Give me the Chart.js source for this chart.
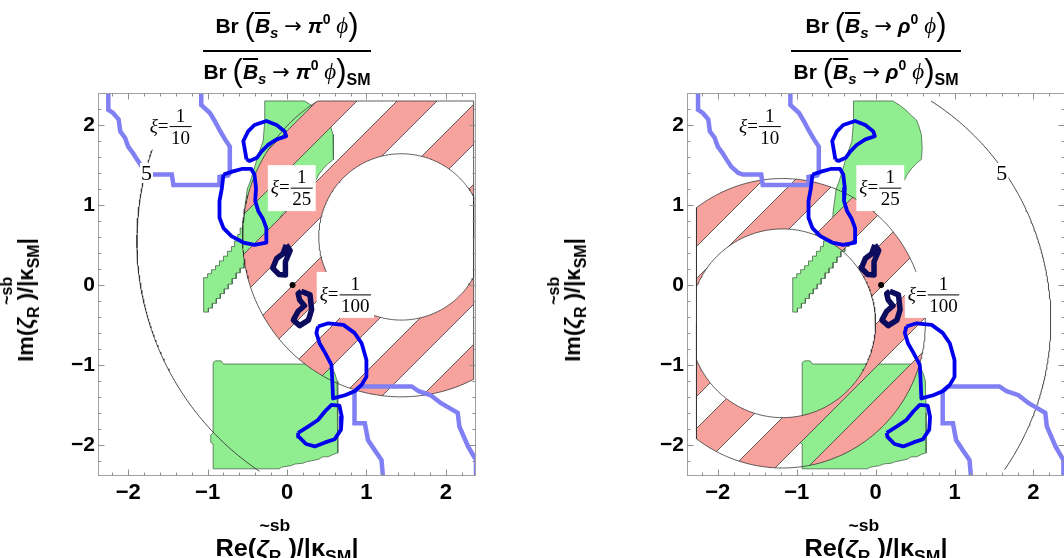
<!DOCTYPE html>
<html><head><meta charset="utf-8">
<script src="https://cdn.jsdelivr.net/npm/chart.js@4.4.1/dist/chart.umd.min.js"></script>
<style>
html,body{margin:0;padding:0;background:#fff;}
body{width:1064px;height:558px;overflow:hidden;position:relative;font-family:'Liberation Sans',Arial,sans-serif;color:#000;}
canvas{position:absolute;top:0;}
.ln{position:absolute;white-space:nowrap;font-weight:bold;font-size:21px;line-height:24px;transform:translateX(-50%);}
.par{font-weight:normal;font-size:31px;line-height:0;position:relative;top:2px;}
.bb{font-style:italic;text-decoration:overline;text-decoration-thickness:2px;}
.sub{font-size:15px;line-height:0;position:relative;top:5px;}
.subsm{font-size:16px;line-height:0;position:relative;top:6px;}
.sup{font-size:14px;line-height:0;position:relative;top:-9px;}
.arr{font-family:'DejaVu Sans',sans-serif;font-weight:normal;font-size:21px;line-height:0;}
.gk{font-style:italic;}
.ph{font-family:'Liberation Serif','DejaVu Serif',serif;font-style:italic;font-weight:normal;font-size:23px;}
.bar{position:absolute;height:2px;background:#000;}
.ax{position:absolute;white-space:nowrap;font-weight:bold;font-size:23px;line-height:26px;}
.z{position:relative;font-style:italic;}
.sb{position:absolute;font-size:16px;line-height:18px;font-style:normal;}
.axsub{font-size:16px;line-height:0;position:relative;top:6px;}
</style></head><body>
<canvas id="cL" width="532" height="558" style="left:0"></canvas>
<canvas id="cR" width="545" height="558" style="left:532px"></canvas>

<div class="ln" style="left:287px;top:14px">Br <span class="par">(</span><span class="bb">B</span><span class="sub gk">s</span> <span class="arr">→</span> <span class="gk">π</span><span class="sup">0</span> <span class="ph">ϕ</span><span class="par">)</span></div>
<div class="bar" style="left:203px;top:50px;width:168px"></div>
<div class="ln" style="left:287px;top:60px">Br <span class="par">(</span><span class="bb">B</span><span class="sub gk">s</span> <span class="arr">→</span> <span class="gk">π</span><span class="sup">0</span> <span class="ph">ϕ</span><span class="par">)</span><span class="subsm">SM</span></div>

<div class="ln" style="left:876px;top:14px">Br <span class="par">(</span><span class="bb">B</span><span class="sub gk">s</span> <span class="arr">→</span> <span class="gk">ρ</span><span class="sup">0</span> <span class="ph">ϕ</span><span class="par">)</span></div>
<div class="bar" style="left:791px;top:50px;width:170px"></div>
<div class="ln" style="left:876px;top:60px">Br <span class="par">(</span><span class="bb">B</span><span class="sub gk">s</span> <span class="arr">→</span> <span class="gk">ρ</span><span class="sup">0</span> <span class="ph">ϕ</span><span class="par">)</span><span class="subsm">SM</span></div>

<div class="ax" style="left:287px;top:548px;transform:translate(-50%,-50%) scaleX(1.1)">Re(<span class="z">ζ<span class="sb" style="left:3px;top:-18px">~sb</span></span><span class="axsub">R</span> )/|κ<span class="axsub">SM</span>|</div>
<div class="ax" style="left:876px;top:548px;transform:translate(-50%,-50%) scaleX(1.1)">Re(<span class="z">ζ<span class="sb" style="left:3px;top:-18px">~sb</span></span><span class="axsub">R</span> )/|κ<span class="axsub">SM</span>|</div>
<div class="ax" style="left:26px;top:300px;font-size:22px;transform:translate(-50%,-50%) rotate(-90deg)">Im(<span class="z">ζ<span class="sb" style="left:24px;top:-15px">~sb</span></span><span class="axsub">R</span> )/|κ<span class="axsub">SM</span>|</div>
<div class="ax" style="left:573px;top:300px;font-size:22px;transform:translate(-50%,-50%) rotate(-90deg)">Im(<span class="z">ζ<span class="sb" style="left:24px;top:-15px">~sb</span></span><span class="axsub">R</span> )/|κ<span class="axsub">SM</span>|</div>

<script>
// ---------------- data ----------------
const tickValues = [-2, -1, 0, 1, 2];
const minorStep = 0.2;
const xRangePi = [-2.38, 2.38];
const xRangeRho = [-2.39, 2.40];
const yRange = [-2.39, 2.40];

// light-blue constraint lines
const xiLine10 = [[-2.25,2.42],[-2.25,2.19],[-2.19,2.15],[-2.12,2.07],[-2.10,1.92],[-2.04,1.84],[-2.00,1.73],[-1.94,1.65],[-1.89,1.57],[-1.83,1.48],[-1.74,1.40],[-1.68,1.38],[-1.45,1.38],[-1.43,1.25],[-0.85,1.25],[-0.85,1.35],[-0.74,1.37],[-0.72,1.40],[-0.72,1.73],[-0.78,1.82],[-0.85,1.94],[-0.91,2.05],[-0.97,2.15],[-1.08,2.25],[-1.08,2.42]];
const xiLine100 = [[1.21,-2.42],[1.19,-2.19],[1.10,-2.06],[1.02,-1.94],[0.98,-1.73],[0.85,-1.73],[0.85,-1.33],[0.92,-1.27],[1.57,-1.27],[1.66,-1.33],[1.81,-1.38],[1.94,-1.48],[2.15,-1.60],[2.17,-1.77],[2.28,-2.02],[2.38,-2.19],[2.38,-2.42]];

// blue contours
const contourA = [[-0.51,1.57],[-0.55,1.80],[-0.49,1.92],[-0.41,2.00],[-0.26,2.05],[-0.13,2.00],[-0.03,1.92],[-0.01,1.86],[-0.13,1.82],[-0.24,1.75],[-0.32,1.67],[-0.38,1.59],[-0.47,1.55],[-0.51,1.57]];
const contourB = [[-0.80,1.38],[-0.68,1.42],[-0.57,1.45],[-0.45,1.45],[-0.41,1.38],[-0.39,1.21],[-0.40,1.05],[-0.36,0.92],[-0.30,0.82],[-0.26,0.71],[-0.26,0.53],[-0.41,0.50],[-0.55,0.53],[-0.70,0.61],[-0.80,0.71],[-0.85,0.84],[-0.85,1.05],[-0.82,1.21],[-0.80,1.38]];
const contourC = [[0.39,-0.52],[0.52,-0.48],[0.71,-0.50],[0.85,-0.60],[0.94,-0.73],[1.00,-0.94],[1.00,-1.15],[0.94,-1.25],[0.85,-1.33],[0.73,-1.38],[0.58,-1.42],[0.57,-1.19],[0.56,-1.00],[0.48,-0.85],[0.41,-0.73],[0.37,-0.60],[0.39,-0.52]];
const contourD = [[0.14,-1.85],[0.27,-1.77],[0.39,-1.69],[0.48,-1.58],[0.56,-1.50],[0.66,-1.51],[0.69,-1.65],[0.68,-1.81],[0.60,-1.93],[0.48,-1.97],[0.35,-2.02],[0.24,-1.99],[0.15,-1.90],[0.14,-1.85]];

// dark navy blobs and SM point
const blobUpper = [[-0.01,0.50],[0.04,0.43],[-0.02,0.29],[-0.02,0.125],[-0.10,0.13],[-0.18,0.21],[-0.13,0.33],[-0.05,0.39],[-0.01,0.50]];
const blobLower = [[0.18,-0.08],[0.29,-0.125],[0.31,-0.31],[0.27,-0.44],[0.16,-0.51],[0.08,-0.44],[0.14,-0.33],[0.22,-0.26],[0.16,-0.19],[0.14,-0.11],[0.18,-0.08]];
const smPoint = [[0.07, 0.0]];

// green allowed regions
const greenUpper = [[-0.28,2.30],[0.22,2.30],[0.30,2.25],[0.38,2.19],[0.45,2.12],[0.52,2.06],[0.55,1.98],[0.58,1.88],[0.59,1.70],[0.58,1.57],[0.52,1.52],[0.46,1.46],[0.40,1.38],[0.37,1.32],[0.20,1.12],[0.06,0.96],[-0.05,0.90],[-0.10,0.82],[-0.13,0.74],
 [-0.18,0.74],[-0.18,0.68],[-0.24,0.68],[-0.24,0.62],[-0.29,0.62],[-0.29,0.55],[-0.34,0.55],[-0.34,0.48],[-0.39,0.48],[-0.39,0.42],[-0.44,0.42],[-0.44,0.35],[-0.49,0.35],[-0.49,0.28],[-0.54,0.28],[-0.54,0.21],[-0.59,0.21],[-0.59,0.15],[-0.64,0.15],[-0.64,0.08],[-0.69,0.08],[-0.69,0.01],[-0.74,0.01],[-0.74,-0.05],[-0.79,-0.05],[-0.79,-0.11],[-0.84,-0.11],[-0.84,-0.17],[-0.89,-0.17],[-0.89,-0.23],[-0.94,-0.23],[-0.94,-0.29],[-0.99,-0.29],[-0.99,-0.34],[-1.05,-0.34],
 [-1.05,0.09],[-1.00,0.09],[-1.00,0.14],[-0.95,0.14],[-0.95,0.19],[-0.90,0.19],[-0.90,0.24],[-0.85,0.24],[-0.85,0.30],[-0.80,0.30],[-0.80,0.36],[-0.75,0.36],[-0.75,0.42],[-0.70,0.42],[-0.70,0.48],[-0.66,0.48],[-0.66,0.55],[-0.62,0.55],[-0.62,0.63],[-0.59,0.63],[-0.59,0.71],[-0.56,0.71],[-0.56,0.80],[-0.54,0.80],[-0.54,0.90],
 [-0.52,1.05],[-0.50,1.20],[-0.46,1.30],[-0.40,1.50],[-0.36,1.63],[-0.30,1.80],[-0.28,2.05],[-0.28,2.30]];
const greenLower = [[-0.93,-1.04],[-0.93,-0.97],[-0.90,-0.95],[-0.83,-0.95],[-0.80,-0.99],[0.48,-0.99],[0.56,-1.02],[0.60,-1.10],[0.63,-1.20],[0.64,-1.60],[0.64,-2.10],[0.58,-2.12],[0.52,-2.15],[0.45,-2.15],[0.40,-2.18],[0.31,-2.20],[0.25,-2.21],[0.20,-2.23],[0.10,-2.24],[0.05,-2.26],[-0.07,-2.28],[-0.10,-2.30],[-0.93,-2.30],[-0.93,-1.99],[-0.96,-1.97],[-0.96,-1.88],[-0.93,-1.85],[-0.93,-1.04]];

// hatched ratio regions: centre x, centre y, inner radius, outer radius
const ringPi = [1.44, 0.60, 1.04, 2.00];
const ringRho = [-1.18, -0.48, 1.18, 1.81];
const clipPi = [-2.33, 2.35, -2.30, 2.30];
const clipRho = [-2.27, 2.33, -2.30, 2.30];

// "5" contour: centre x, centre y, radius ; visible y-extent
const circ5Pi = [1.57, 0.55, 3.46];
const arc5PiY = [-2.33, 1.76];
const circ5Rho = [-1.03, -0.45, 3.25];
const arc5RhoY = [-2.31, 2.30];
const label5Pi = [-1.77, 1.40];
const label5Rho = [1.60, 1.40];

// xi labels
const xiDen = ['10', '25', '100'];
const xiPosX = [-1.34, 0.185, 0.86];
const xiPosY = [1.98, 1.21, -0.125];

// ---------------- styling ----------------
const GREEN = '#90ee90', GREEN_EDGE = '#46684a', PINK = '#f8a29d', BLUE = '#0000ee', LIGHT = '#8080f4', NAVY = '#0c0c5e';

const pts = arr => arr.map(([x, y]) => ({x, y}));

function ringPolygon(ring, clip, theta0) {
  const [cx, cy, ri, ro] = ring;
  const [x0, x1, y0, y1] = clip;
  const cl = (x, y) => ({x: Math.min(x1, Math.max(x0, x)), y: Math.min(y1, Math.max(y0, y))});
  const N = 360, out = [];
  for (let i = 0; i <= N; i++) { const t = theta0 + 2 * Math.PI * i / N; out.push(cl(cx + ro * Math.cos(t), cy + ro * Math.sin(t))); }
  for (let i = 0; i <= N; i++) { const t = theta0 - 2 * Math.PI * i / N; out.push(cl(cx + ri * Math.cos(t), cy + ri * Math.sin(t))); }
  out.push(out[0]);
  return out;
}
function arcPoints(c, yr, leftSide) {
  const [cx, cy, r] = c;
  const a = Math.asin((yr[0] - cy) / r), b = Math.asin((yr[1] - cy) / r);
  let t0, t1;
  if (leftSide) { t0 = Math.PI - b; t1 = Math.PI - a; } else { t0 = a; t1 = b; }
  const out = [], N = 200;
  for (let i = 0; i <= N; i++) { const t = t0 + (t1 - t0) * i / N; out.push({x: cx + r * Math.cos(t), y: cy + r * Math.sin(t)}); }
  return out;
}
function hatch(period, a, b) {
  const c = document.createElement('canvas');
  c.width = period; c.height = period;
  const g = c.getContext('2d');
  const P = period;
  for (let k = -3; k <= 3; k++) {
    const c1 = a + k * P, c2 = b + k * P;
    g.fillStyle = PINK;
    g.beginPath();
    g.moveTo(c1 + 2 * P, -2 * P); g.lineTo(c1 - 2 * P, 2 * P); g.lineTo(c2 - 2 * P, 2 * P); g.lineTo(c2 + 2 * P, -2 * P);
    g.closePath(); g.fill();
  }
  g.strokeStyle = '#3a3a3a'; g.lineWidth = 0.8;
  for (let k = -3; k <= 3; k++) {
    for (const cc of [a + k * P, b + k * P]) {
      g.beginPath(); g.moveTo(cc + 2 * P, -2 * P); g.lineTo(cc - 2 * P, 2 * P); g.stroke();
    }
  }
  return g.createPattern(c, 'repeat');
}

function buildDatasets(o) {
  const base = {pointRadius: 0, pointHoverRadius: 0, tension: 0, fill: false};
  return [
    {...base, label: 'green upper', data: pts(greenUpper), fill: 'shape', backgroundColor: GREEN, borderColor: GREEN_EDGE, borderWidth: 0.8, order: 100},
    {...base, label: 'green lower', data: pts(greenLower), fill: 'shape', backgroundColor: GREEN, borderColor: GREEN_EDGE, borderWidth: 0.8, order: 99},
    {...base, label: 'Br ratio', data: ringPolygon(o.ring, o.clip, o.theta0), fill: 'shape', backgroundColor: o.pattern, borderColor: '#333', borderWidth: 0.8, order: 90},
    {...base, label: '5', data: arcPoints(o.circ, o.arcY, o.leftArc), borderColor: '#333', borderWidth: 0.9, order: 80},
    {...base, label: 'xi 1/10', data: pts(xiLine10), borderColor: LIGHT, borderWidth: 4.5, borderJoinStyle: 'miter', order: 70},
    {...base, label: 'xi 1/100', data: pts(xiLine100), borderColor: LIGHT, borderWidth: 4.5, borderJoinStyle: 'miter', order: 69},
    {...base, label: 'blob up', data: pts(blobUpper), borderColor: NAVY, borderWidth: 5.5, borderJoinStyle: 'round', order: 60},
    {...base, label: 'blob low', data: pts(blobLower), borderColor: NAVY, borderWidth: 5.5, borderJoinStyle: 'round', order: 59},
    {...base, label: 'cA', data: pts(contourA), borderColor: BLUE, borderWidth: 3.8, borderJoinStyle: 'round', order: 50},
    {...base, label: 'cB', data: pts(contourB), borderColor: BLUE, borderWidth: 3.8, borderJoinStyle: 'round', order: 49},
    {...base, label: 'cC', data: pts(contourC), borderColor: BLUE, borderWidth: 3.8, borderJoinStyle: 'round', order: 48},
    {...base, label: 'cD', data: pts(contourD), borderColor: BLUE, borderWidth: 3.8, borderJoinStyle: 'round', order: 47},
    {label: 'SM', data: pts(smPoint), showLine: false, pointRadius: 3, pointBackgroundColor: '#000', pointBorderWidth: 0, order: 40}
  ];
}

const decor = {
  id: 'decor',
  afterDatasetsDraw(chart, args, opts) {
    const {ctx, scales: {x, y}} = chart;
    ctx.save();
    ctx.beginPath();
    ctx.rect(chart.chartArea.left, chart.chartArea.top, chart.chartArea.width, chart.chartArea.height);
    ctx.clip();
    // "5" contour label
    const fx = x.getPixelForValue(opts.five[0]), fy = y.getPixelForValue(opts.five[1]);
    ctx.font = '22px "Liberation Serif"';
    const w5 = ctx.measureText('5').width;
    ctx.fillStyle = '#fff';
    ctx.fillRect(fx - w5 / 2 - 1, fy - 10, w5 + 2, 20);
    ctx.fillStyle = '#000'; ctx.textAlign = 'center'; ctx.textBaseline = 'middle';
    ctx.fillText('5', fx, fy + 1);
    // xi labels
    for (let i = 0; i < xiDen.length; i++) {
      const px = x.getPixelForValue(xiPosX[i]), py = y.getPixelForValue(xiPosY[i]);
      ctx.font = '19px "Liberation Serif"';
      const wDen = ctx.measureText(xiDen[i]).width;
      const wEq = ctx.measureText('=').width;
      ctx.font = 'italic 19px "Liberation Serif"';
      const wXi = ctx.measureText('ξ').width;
      const half = wDen / 2 + 1.5;
      const left = px - half - wEq - wXi - 1;
      ctx.fillStyle = '#fff';
      ctx.fillRect(left - 3, py - 23, (px + half + 3) - (left - 3), 46);
      ctx.fillStyle = '#000';
      ctx.textBaseline = 'middle'; ctx.textAlign = 'left';
      ctx.fillText('ξ', left, py);
      ctx.font = '19px "Liberation Serif"';
      ctx.fillText('=', left + wXi, py);
      ctx.textAlign = 'center'; ctx.textBaseline = 'alphabetic';
      ctx.fillText('1', px, py - 5);
      ctx.fillText(xiDen[i], px, py + 17);
      ctx.fillRect(px - half, py - 0.5, 2 * half, 1);
    }
    ctx.restore();
  },
  afterDraw(chart) {
    const {ctx, chartArea: a, scales: {x, y}} = chart;
    ctx.save();
    ctx.strokeStyle = '#a0a0a0'; ctx.lineWidth = 1;
    ctx.strokeRect(a.left + 0.5, a.top + 0.5, a.width - 1, a.height - 1);
    ctx.strokeStyle = '#909090';
    ctx.beginPath();
    for (let k = -11; k <= 11; k++) {
      const v = k * minorStep;
      const major = k % 5 === 0;
      const L = major ? 6.5 : 3.5;
      if (v > x.min && v < x.max) {
        const px = Math.round(x.getPixelForValue(v)) + 0.5;
        ctx.moveTo(px, a.bottom); ctx.lineTo(px, a.bottom - L);
        ctx.moveTo(px, a.top); ctx.lineTo(px, a.top + L);
      }
      if (v > y.min && v < y.max) {
        const py = Math.round(y.getPixelForValue(v)) + 0.5;
        ctx.moveTo(a.left, py); ctx.lineTo(a.left + L, py);
        ctx.moveTo(a.right, py); ctx.lineTo(a.right - L, py);
      }
    }
    ctx.stroke();
    ctx.restore();
  }
};

const fmt = v => (v < 0 ? '\u2212' : '') + Math.abs(v);
function makeChart(id, o) {
  return new Chart(document.getElementById(id), {
    type: 'line',
    data: {datasets: buildDatasets(o)},
    options: {
      responsive: false, animation: false, events: [],
      layout: {padding: {left: 0, top: 93, right: o.padRight, bottom: 0}},
      scales: {
        x: {type: 'linear', min: o.xRange[0], max: o.xRange[1],
            afterFit: s => { s.height = 82; },
            afterBuildTicks: s => { s.ticks = tickValues.map(v => ({value: v})); },
            grid: {display: false, drawTicks: false}, border: {display: false},
            ticks: {font: {family: 'Liberation Sans', size: 22, weight: 'bold'}, color: '#000', padding: 4, callback: fmt, maxRotation: 0, autoSkip: false}},
        y: {type: 'linear', min: yRange[0], max: yRange[1],
            afterFit: s => { s.width = o.yWidth; },
            afterBuildTicks: s => { s.ticks = tickValues.map(v => ({value: v})); },
            grid: {display: false, drawTicks: false}, border: {display: false},
            ticks: {font: {family: 'Liberation Sans', size: 21, weight: 'bold'}, color: '#000', padding: 3, callback: fmt, autoSkip: false}}
      },
      plugins: {legend: {display: false}, tooltip: {enabled: false}, decor: {five: o.five}}
    },
    plugins: [decor]
  });
}

makeChart('cL', {ring: ringPi, clip: clipPi, theta0: 0, pattern: hatch(80, 18, 58), circ: circ5Pi, arcY: arc5PiY, leftArc: true,
  five: label5Pi, xRange: xRangePi, padRight: 56, yWidth: 98});
makeChart('cR', {ring: ringRho, clip: clipRho, theta0: Math.PI, pattern: hatch(75, -7, 36), circ: circ5Rho, arcY: arc5RhoY, leftArc: false,
  five: label5Rho, xRange: xRangeRho, padRight: 12, yWidth: 155});
</script>
</body></html>
